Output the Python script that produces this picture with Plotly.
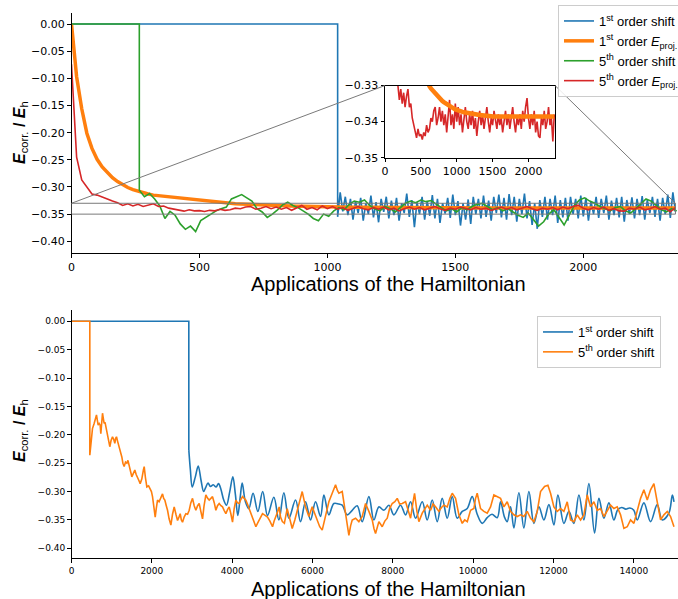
import plotly.graph_objects as go

# ======================= DATA =======================
# ---- top panel ----
eproj_step = 20                     # Eproj series sampled every 20 applications from 0
eproj1_top_vals = [
    0.000, -0.097, -0.156, -0.201, -0.229, -0.249, -0.263, -0.274, -0.283, -0.290,
    -0.296, -0.301, -0.305, -0.308, -0.311, -0.313, -0.315, -0.316, -0.317, -0.319,
    -0.320, -0.321, -0.322, -0.323, -0.324, -0.325, -0.326, -0.327, -0.328, -0.329,
    -0.3296, -0.3302, -0.3308, -0.3313, -0.3318, -0.3323, -0.3328, -0.3332, -0.3336, -0.3340,
    -0.3343, -0.3346, -0.3349, -0.3352, -0.3355, -0.3357, -0.3360, -0.3362, -0.3364, -0.3366,
    -0.3368, -0.3369, -0.3371, -0.3372, -0.3373, -0.3374, -0.3375, -0.3376, -0.3377, -0.3378,
    -0.3378, -0.3379, -0.3380, -0.3380, -0.3381, -0.3381, -0.3382, -0.3382, -0.3383, -0.3383,
    -0.3384, -0.3384, -0.3385, -0.3385, -0.3385, -0.3386, -0.3386, -0.3386, -0.3387, -0.3387,
    -0.3387, -0.3387, -0.3388, -0.3388, -0.3388, -0.3388, -0.3389, -0.3389, -0.3389, -0.3389,
    -0.3389, -0.3389, -0.3389, -0.3389, -0.3389, -0.3389, -0.3389, -0.3389, -0.3389, -0.3389,
    -0.3389, -0.3389, -0.3389, -0.3389, -0.3388, -0.3388, -0.3388, -0.3388, -0.3388, -0.3388,
    -0.3387, -0.3387, -0.3387, -0.3387, -0.3386, -0.3386, -0.3386, -0.3386, -0.3386,
]
eproj5_top_vals = [
    -0.074, -0.245, -0.287, -0.300, -0.313, -0.315, -0.318, -0.322, -0.326, -0.329,
    -0.334, -0.331, -0.335, -0.332, -0.336, -0.333, -0.331, -0.336, -0.335, -0.339,
    -0.341, -0.343, -0.3445, -0.342, -0.344, -0.3435, -0.345, -0.343, -0.344, -0.341,
    -0.343, -0.342, -0.339, -0.340, -0.337, -0.336, -0.341, -0.339, -0.336, -0.340,
    -0.337, -0.341, -0.338, -0.343, -0.339, -0.334, -0.341, -0.338, -0.342, -0.335,
    -0.340, -0.336, -0.341, -0.338, -0.343, -0.339, -0.336, -0.340, -0.342, -0.338,
    -0.341, -0.337, -0.342, -0.339, -0.344, -0.340, -0.337, -0.341, -0.338, -0.342,
    -0.339, -0.336, -0.340, -0.343, -0.339, -0.341, -0.337, -0.340, -0.342, -0.338,
    -0.341, -0.339, -0.343, -0.340, -0.337, -0.341, -0.338, -0.342, -0.339, -0.336,
    -0.340, -0.343, -0.339, -0.341, -0.338, -0.342, -0.337, -0.340, -0.336, -0.3335,
    -0.339, -0.342, -0.338, -0.341, -0.337, -0.343, -0.340, -0.344, -0.3445, -0.339,
    -0.341, -0.337, -0.342, -0.340, -0.336, -0.341, -0.339, -0.3455, -0.338,
]
shift1_top_drop = 1040              # 1st order shift switched on here
shift1_top_step = 10
shift1_top_vals = [
    -0.355, -0.310, -0.345, -0.318, -0.352, -0.322, -0.360, -0.326, -0.348, -0.320,
    -0.362, -0.330, -0.350, -0.316, -0.356, -0.328, -0.365, -0.322, -0.346, -0.318,
    -0.358, -0.325, -0.352, -0.320, -0.362, -0.330, -0.348, -0.312, -0.355, -0.324,
    -0.374, -0.328, -0.350, -0.318, -0.360, -0.326, -0.353, -0.315, -0.358, -0.322,
    -0.366, -0.330, -0.349, -0.320, -0.357, -0.314, -0.352, -0.326, -0.371, -0.330,
    -0.360, -0.323, -0.368, -0.318, -0.350, -0.322, -0.358, -0.316, -0.355, -0.325,
    -0.362, -0.318, -0.348, -0.314, -0.356, -0.320, -0.360, -0.313, -0.352, -0.318,
    -0.364, -0.322, -0.350, -0.312, -0.358, -0.326, -0.370, -0.330, -0.377, -0.324,
    -0.355, -0.318, -0.360, -0.322, -0.352, -0.316, -0.366, -0.324, -0.356, -0.320,
    -0.362, -0.318, -0.350, -0.322, -0.358, -0.316, -0.354, -0.320, -0.362, -0.326,
    -0.350, -0.318, -0.357, -0.322, -0.348, -0.316, -0.360, -0.325, -0.352, -0.320,
    -0.356, -0.318, -0.364, -0.324, -0.350, -0.319, -0.358, -0.322, -0.352, -0.317,
    -0.360, -0.324, -0.348, -0.318, -0.355, -0.322, -0.362, -0.320, -0.350, -0.314,
    -0.357, -0.310, -0.346,
]
shift5_top_drop = 265               # 5th order shift switched on here
shift5_top_step = 20
shift5_top_vals = [
    -0.306, -0.318, -0.312, -0.322, -0.335, -0.358, -0.345, -0.352, -0.368, -0.378,
    -0.372, -0.382, -0.362, -0.356, -0.349, -0.344, -0.340, -0.337, -0.322, -0.318,
    -0.314, -0.320, -0.326, -0.340, -0.346, -0.356, -0.350, -0.342, -0.333, -0.328,
    -0.334, -0.338, -0.344, -0.350, -0.358, -0.362, -0.350, -0.354, -0.344, -0.338,
    -0.342, -0.332, -0.326, -0.328, -0.324, -0.334, -0.340, -0.344, -0.336, -0.340,
    -0.346, -0.338, -0.330, -0.326, -0.329, -0.324, -0.327, -0.325, -0.332, -0.338,
    -0.344, -0.340, -0.346, -0.338, -0.342, -0.336, -0.332, -0.330, -0.336, -0.342,
    -0.338, -0.344, -0.340, -0.346, -0.352, -0.356, -0.348, -0.360, -0.372, -0.364,
    -0.350, -0.342, -0.356, -0.370, -0.352, -0.334, -0.324, -0.320, -0.326, -0.330,
    -0.336, -0.340, -0.344, -0.338, -0.336, -0.344, -0.348, -0.340, -0.330, -0.322,
    -0.326, -0.334, -0.342, -0.346, -0.340, -0.344,
]

# ---- bottom panel ----
shift1_bot_drop = 2921
shift1_bot_drop_val = -0.227
shift1_bot_pts = [
    (2921, -0.227), (2960, -0.262), (3005, -0.292), (3080, -0.275), (3155, -0.255),
    (3225, -0.280), (3290, -0.300), (3345, -0.292), (3400, -0.285), (3460, -0.291),
    (3530, -0.288), (3600, -0.292), (3660, -0.286), (3720, -0.296), (3790, -0.315),
    (3860, -0.324), (3940, -0.300), (4017, -0.274), (4080, -0.305), (4140, -0.342),
    (4200, -0.310), (4250, -0.285), (4330, -0.318), (4416, -0.330), (4520, -0.303),
    (4640, -0.335), (4760, -0.300), (4880, -0.342), (5038, -0.310), (5163, -0.350),
    (5287, -0.302), (5412, -0.347), (5578, -0.315), (5702, -0.353), (5827, -0.318),
    (5951, -0.350), (6076, -0.318), (6200, -0.344), (6283, -0.306), (6408, -0.341),
    (6532, -0.321), (6657, -0.322), (6740, -0.324), (6864, -0.341), (6989, -0.333),
    (7113, -0.325), (7238, -0.353), (7404, -0.309), (7528, -0.350), (7653, -0.327),
    (7777, -0.333), (7902, -0.324), (8026, -0.341), (8192, -0.324), (8317, -0.341),
    (8441, -0.318), (8566, -0.347), (8732, -0.318), (8856, -0.350), (8981, -0.315),
    (9105, -0.353), (9230, -0.312), (9354, -0.347), (9479, -0.309), (9603, -0.347),
    (9728, -0.335), (9852, -0.330), (9976, -0.309), (10101, -0.340), (10226, -0.356),
    (10350, -0.346), (10470, -0.340), (10600, -0.346), (10682, -0.318), (10780, -0.345),
    (10848, -0.353), (10931, -0.327), (11014, -0.364), (11139, -0.302), (11263, -0.364),
    (11388, -0.300), (11512, -0.356), (11637, -0.327), (11761, -0.350), (11886, -0.323),
    (12010, -0.359), (12110, -0.306), (12259, -0.356), (12384, -0.335), (12508, -0.356),
    (12633, -0.306), (12757, -0.350), (12882, -0.286), (13023, -0.373), (13131, -0.312),
    (13255, -0.347), (13380, -0.320), (13504, -0.350), (13600, -0.332), (13700, -0.328),
    (13800, -0.331), (13900, -0.329), (14000, -0.333), (14085, -0.350), (14251, -0.320),
    (14417, -0.353), (14583, -0.323), (14708, -0.350), (14873, -0.338), (14960, -0.306),
    (15000, -0.318),
]
shift5_bot_drop = 456
shift5_bot_pts = [
    (456, -0.236), (475, -0.225), (497, -0.209), (522, -0.189), (564, -0.180),
    (600, -0.172), (622, -0.165), (645, -0.175), (664, -0.183), (690, -0.180),
    (714, -0.183), (730, -0.198), (750, -0.180), (772, -0.162), (790, -0.170),
    (813, -0.180), (835, -0.178), (855, -0.186), (875, -0.195), (896, -0.2035),
    (920, -0.212), (954, -0.221), (985, -0.210), (1021, -0.2035), (1050, -0.208),
    (1079, -0.215), (1100, -0.206), (1120, -0.2035), (1150, -0.212), (1187, -0.221),
    (1220, -0.232), (1253, -0.239), (1280, -0.250), (1311, -0.256), (1345, -0.248),
    (1378, -0.250), (1405, -0.245), (1436, -0.256), (1470, -0.265), (1502, -0.274),
    (1540, -0.268), (1577, -0.262), (1610, -0.270), (1643, -0.277), (1675, -0.280),
    (1710, -0.286), (1750, -0.278), (1790, -0.262), (1810, -0.256), (1840, -0.275),
    (1876, -0.292), (1920, -0.290), (1959, -0.295), (1990, -0.300), (2017, -0.309),
    (2050, -0.330), (2084, -0.345), (2110, -0.330), (2142, -0.315), (2180, -0.318),
    (2220, -0.310), (2266, -0.304), (2295, -0.312), (2324, -0.315), (2360, -0.325),
    (2391, -0.333), (2430, -0.348), (2474, -0.359), (2515, -0.340), (2557, -0.327),
    (2600, -0.340), (2640, -0.351), (2675, -0.345), (2706, -0.339), (2735, -0.350),
    (2764, -0.354), (2805, -0.345), (2847, -0.339), (2890, -0.340), (2930, -0.333),
    (2970, -0.320), (3013, -0.312), (3055, -0.325), (3096, -0.333), (3140, -0.325),
    (3179, -0.321), (3220, -0.335), (3262, -0.348), (3300, -0.325), (3345, -0.306),
    (3390, -0.312), (3428, -0.315), (3470, -0.312), (3511, -0.309), (3555, -0.320),
    (3594, -0.333), (3635, -0.325), (3677, -0.321), (3720, -0.325), (3760, -0.327),
    (3800, -0.333), (3843, -0.339), (3885, -0.332), (3926, -0.327), (3970, -0.340),
    (4009, -0.354), (4050, -0.330), (4092, -0.315), (4135, -0.320), (4175, -0.321),
    (4215, -0.314), (4258, -0.309), (4300, -0.312), (4341, -0.315), (4380, -0.322),
    (4424, -0.330), (4465, -0.338), (4507, -0.345), (4550, -0.355), (4590, -0.362),
    (4630, -0.356), (4673, -0.351), (4715, -0.345), (4756, -0.339), (4820, -0.342),
    (4880, -0.345), (4940, -0.352), (5005, -0.362), (5045, -0.352), (5088, -0.345),
    (5130, -0.336), (5171, -0.327), (5204, -0.345), (5250, -0.353), (5300, -0.356),
    (5370, -0.330), (5430, -0.345), (5495, -0.365), (5560, -0.350), (5619, -0.335),
    (5680, -0.318), (5744, -0.300), (5827, -0.327), (5910, -0.344), (5993, -0.327),
    (6060, -0.340), (6118, -0.353), (6180, -0.362), (6242, -0.368), (6325, -0.344),
    (6408, -0.318), (6491, -0.303), (6574, -0.288), (6620, -0.298), (6657, -0.303),
    (6740, -0.300), (6823, -0.335), (6870, -0.360), (6906, -0.377), (6950, -0.360),
    (6989, -0.350), (7072, -0.347), (7155, -0.353), (7238, -0.344), (7321, -0.321),
    (7404, -0.335), (7487, -0.350), (7530, -0.365), (7570, -0.374), (7653, -0.353),
    (7736, -0.362), (7800, -0.352), (7861, -0.347), (7920, -0.330), (7985, -0.321),
    (8050, -0.318), (8110, -0.312), (8170, -0.322), (8234, -0.321), (8317, -0.318),
    (8380, -0.335), (8442, -0.347), (8500, -0.320), (8541, -0.303), (8600, -0.335),
    (8649, -0.353), (8732, -0.338), (8800, -0.330), (8857, -0.324), (8940, -0.333),
    (9000, -0.322), (9064, -0.327), (9147, -0.335), (9210, -0.328), (9272, -0.324),
    (9355, -0.327), (9420, -0.312), (9479, -0.303), (9562, -0.312), (9645, -0.341),
    (9728, -0.356), (9790, -0.350), (9853, -0.353), (9935, -0.333), (10018, -0.330),
    (10060, -0.312), (10101, -0.303), (10184, -0.330), (10267, -0.335), (10350, -0.338),
    (10433, -0.327), (10516, -0.306), (10599, -0.309), (10682, -0.312), (10765, -0.327),
    (10848, -0.318), (10931, -0.335), (11014, -0.341), (11097, -0.344), (11180, -0.341),
    (11263, -0.344), (11346, -0.335), (11429, -0.347), (11512, -0.353), (11595, -0.335),
    (11678, -0.300), (11778, -0.291), (11861, -0.289), (11927, -0.303), (12010, -0.327),
    (12093, -0.335), (12176, -0.330), (12259, -0.335), (12342, -0.318), (12425, -0.350),
    (12508, -0.353), (12591, -0.341), (12674, -0.350), (12757, -0.341), (12840, -0.306),
    (12923, -0.327), (13006, -0.318), (13089, -0.333), (13172, -0.330), (13255, -0.344),
    (13338, -0.335), (13421, -0.324), (13504, -0.330), (13587, -0.327), (13670, -0.341),
    (13753, -0.365), (13836, -0.362), (13919, -0.350), (14002, -0.356), (14085, -0.333),
    (14168, -0.312), (14251, -0.297), (14334, -0.315), (14417, -0.297), (14500, -0.286),
    (14583, -0.318), (14666, -0.350), (14749, -0.341), (14832, -0.335), (14915, -0.344),
    (15000, -0.362),
]

# ---- ticks / labels ----
top_xticks = [0, 500, 1000, 1500, 2000]
bot_xticks = [0, 2000, 4000, 6000, 8000, 10000, 12000, 14000]
y_ticks = [0.0, -0.05, -0.10, -0.15, -0.20, -0.25, -0.30, -0.35, -0.40]
inset_yticks = [-0.35, -0.34, -0.33]
inset_box = (-0.35, -0.33)          # y-window shown in the inset
inset_xmax = 2360
x_label = "Applications of the Hamiltonian"
y_label = "<b><i>E</i></b><sub>corr.</sub><b> / </b><b><i>E</i></b><sub>h</sub>"
names_top = ["1<sup>st</sup> order shift", "1<sup>st</sup> order <i>E</i><sub>proj.</sub>",
             "5<sup>th</sup> order shift", "5<sup>th</sup> order <i>E</i><sub>proj.</sub>"]
names_bot = ["1<sup>st</sup> order shift", "5<sup>th</sup> order shift"]

# ======================= STYLE / LAYOUT =======================
W, H = 678, 599
BLUE, ORANGE, GREEN, RED = "#1f77b4", "#ff7f0e", "#2ca02c", "#d62728"
TICKFONT = "DejaVu Sans"
TEXTFONT = "Liberation Sans"


def py(p):
    return 1 - p / H


XDOM = [71.5 / W, 1.0]
TOP_YDOM = [py(253.3), py(13.3)]
BOT_YDOM = [py(558.3), py(310.0)]
INS_XDOM = [385 / W, 555 / W]
INS_YDOM = [py(157.7), py(85.5)]
TOP_XR = [0, 2370]
TOP_YR = [-0.4221, 0.0197]
BOT_XR = [0, 15100]
BOT_YR = [-0.4176, 0.0199]
INS_XR = [0, 2370]

# ======================= BUILD SERIES =======================
eproj_x = [eproj_step * i for i in range(len(eproj1_top_vals))]
eproj5_x = [eproj_step * i for i in range(len(eproj5_top_vals))]
s1_x = [0, shift1_top_drop] + [shift1_top_drop + shift1_top_step * i for i in range(len(shift1_top_vals))]
s1_y = [0.0, 0.0] + shift1_top_vals
s5_x = [0, shift5_top_drop] + [shift5_top_drop + shift5_top_step * i for i in range(len(shift5_top_vals))]
s5_y = [0.0, 0.0] + shift5_top_vals

b1_x = [p[0] for p in shift1_bot_pts]
b1_y = [p[1] for p in shift1_bot_pts]
b5_x = [0, shift5_bot_drop] + [p[0] for p in shift5_bot_pts]
b5_y = [0.0, 0.0] + [p[1] for p in shift5_bot_pts]

fig = go.Figure()
lw = 1.6
# top main
fig.add_trace(go.Scatter(x=s1_x, y=s1_y, mode="lines", name=names_top[0],
                         line=dict(color=BLUE, width=lw), xaxis="x", yaxis="y"))
fig.add_trace(go.Scatter(x=eproj_x, y=eproj1_top_vals, mode="lines", name=names_top[1],
                         line=dict(color=ORANGE, width=3.5), xaxis="x", yaxis="y"))
fig.add_trace(go.Scatter(x=s5_x, y=s5_y, mode="lines", name=names_top[2],
                         line=dict(color=GREEN, width=lw), xaxis="x", yaxis="y"))
fig.add_trace(go.Scatter(x=eproj5_x, y=eproj5_top_vals, mode="lines", name=names_top[3],
                         line=dict(color=RED, width=lw), xaxis="x", yaxis="y"))
# inset
fig.add_trace(go.Scatter(x=eproj5_x, y=eproj5_top_vals, mode="lines", showlegend=False,
                         line=dict(color=RED, width=lw), xaxis="x3", yaxis="y3"))
fig.add_trace(go.Scatter(x=eproj_x, y=eproj1_top_vals, mode="lines", showlegend=False,
                         line=dict(color=ORANGE, width=4.5), xaxis="x3", yaxis="y3"))
# bottom
fig.add_trace(go.Scatter(x=[0, shift1_bot_drop, shift1_bot_drop], y=[0.0, 0.0, shift1_bot_drop_val],
                         mode="lines", showlegend=False, legend="legend2",
                         line=dict(color=BLUE, width=lw), xaxis="x2", yaxis="y2"))
fig.add_trace(go.Scatter(x=b1_x, y=b1_y, mode="lines", name=names_bot[0],
                         legend="legend2", line=dict(color=BLUE, width=lw, shape="spline", smoothing=1.0),
                         xaxis="x2", yaxis="y2"))
fig.add_trace(go.Scatter(x=b5_x, y=b5_y, mode="lines", name=names_bot[1], legend="legend2",
                         line=dict(color=ORANGE, width=lw), xaxis="x2", yaxis="y2"))

common = dict(ticks="outside", ticklen=3.5, tickwidth=0.8, tickcolor="black",
              showline=True, linecolor="black", linewidth=1, showgrid=False, zeroline=False)
f_top = dict(family=TICKFONT, size=11, color="black")
f_bot = dict(family=TICKFONT, size=9, color="black")
leg_common = dict(xanchor="left", yanchor="top", bgcolor="rgba(255,255,255,0.85)",
                  bordercolor="#cccccc", borderwidth=1, itemwidth=30, tracegroupgap=0,
                  font=dict(family=TEXTFONT, size=13, color="black"))

fig.update_layout(
    width=W, height=H,
    margin=dict(l=0, r=0, t=0, b=0, autoexpand=False),
    paper_bgcolor="white", plot_bgcolor="white",
    xaxis=dict(domain=XDOM, range=TOP_XR, anchor="y", tickvals=top_xticks, tickfont=f_top, **common),
    yaxis=dict(domain=TOP_YDOM, range=TOP_YR, anchor="x", tickvals=y_ticks, tickformat=".2f",
               tickfont=f_top, **common),
    xaxis2=dict(domain=XDOM, range=BOT_XR, anchor="y2", tickvals=bot_xticks, tickformat="d",
                tickfont=f_bot, **common),
    yaxis2=dict(domain=BOT_YDOM, range=BOT_YR, anchor="x2", tickvals=y_ticks, tickformat=".2f",
                tickfont=f_bot, **common),
    xaxis3=dict(domain=INS_XDOM, range=INS_XR, anchor="y3", tickvals=top_xticks, tickfont=f_top,
                mirror=True, **common),
    yaxis3=dict(domain=INS_YDOM, range=list(inset_box), anchor="x3", tickvals=inset_yticks,
                tickformat=".2f", tickfont=f_top, mirror=True, **common),
    legend=dict(x=558 / W, y=py(5), **leg_common),
    legend2=dict(x=537 / W, y=py(316), **leg_common),
    showlegend=True,
)

# axis titles as annotations
ann_font_x = dict(family=TEXTFONT, size=20, color="black")
ann_font_y = dict(family=TEXTFONT, size=16, color="black")
fig.add_annotation(text=x_label, x=388 / W, y=py(284), xref="paper", yref="paper",
                   showarrow=False, xanchor="center", yanchor="middle", font=ann_font_x)
fig.add_annotation(text=x_label, x=388 / W, y=py(589), xref="paper", yref="paper",
                   showarrow=False, xanchor="center", yanchor="middle", font=ann_font_x)
fig.add_annotation(text=y_label, x=20 / W, y=py(133), xref="paper", yref="paper", textangle=-90,
                   showarrow=False, xanchor="center", yanchor="middle", font=ann_font_y)
fig.add_annotation(text=y_label, x=20 / W, y=py(431), xref="paper", yref="paper", textangle=-90,
                   showarrow=False, xanchor="center", yanchor="middle", font=ann_font_y)


# inset indicator
def top_paper(xv, yv):
    px = XDOM[0] + (xv - TOP_XR[0]) / (TOP_XR[1] - TOP_XR[0]) * (XDOM[1] - XDOM[0])
    pyv = TOP_YDOM[0] + (yv - TOP_YR[0]) / (TOP_YR[1] - TOP_YR[0]) * (TOP_YDOM[1] - TOP_YDOM[0])
    return px, pyv


GRAY = "#7a7a7a"
fig.add_shape(type="rect", xref="x", yref="y", x0=0, x1=inset_xmax, y0=inset_box[0], y1=inset_box[1],
              line=dict(color=GRAY, width=1), layer="above")
p0 = top_paper(0, inset_box[1])
p1 = top_paper(inset_xmax, inset_box[1])
fig.add_shape(type="line", xref="paper", yref="paper", x0=p0[0], y0=p0[1], x1=INS_XDOM[0], y1=INS_YDOM[1],
              line=dict(color=GRAY, width=1), layer="above")
fig.add_shape(type="line", xref="paper", yref="paper", x0=p1[0], y0=p1[1], x1=INS_XDOM[1], y1=INS_YDOM[1],
              line=dict(color=GRAY, width=1), layer="above")

# the page's default 8px body margin would shift the figure; remove it. Hide the modebar.
fig.write_html("out.html", config={"displayModeBar": False},
               post_script="document.body.style.margin='0px';")
